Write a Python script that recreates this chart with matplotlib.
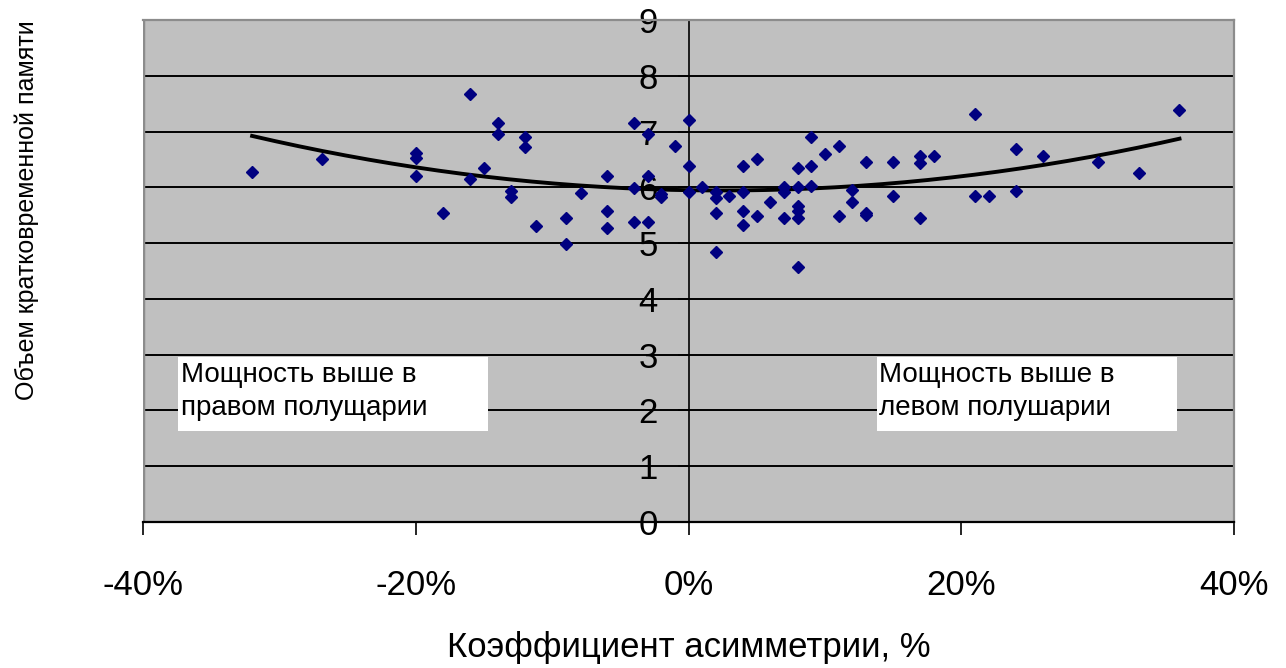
import matplotlib
matplotlib.use("Agg")
import matplotlib.pyplot as plt
import numpy as np
from matplotlib.patches import Rectangle

plt.rcParams['font.family'] = ['Liberation Sans', 'DejaVu Sans']
plt.rcParams['axes.unicode_minus'] = False

# коэффициент асимметрии, %
asym = [-32.0, -26.9, -20.0, -20.0, -20.0, -18.0, -16.0, -16.0, -15.0, -14.0,
        -14.0, -13.0, -13.0, -12.0, -12.0, -11.2, -9.0, -9.0, -7.9, -6.0,
        -6.0, -6.0, -4.0, -4.0, -4.0, -3.0, -3.0, -3.0, -2.0, -2.0,
        -1.0, 0.0, 0.0, 0.0, 1.0, 2.0, 2.0, 2.0, 2.0, 3.0,
        4.0, 4.0, 4.0, 4.0, 5.0, 5.0, 6.0, 7.0, 7.0, 7.0,
        8.0, 8.0, 8.0, 8.0, 8.0, 8.0, 9.0, 9.0, 9.0, 10.0,
        11.0, 11.0, 12.0, 12.0, 13.0, 13.0, 13.0, 15.0, 15.0, 17.0,
        17.0, 17.0, 18.0, 21.0, 21.0, 22.0, 24.0, 24.0, 26.0, 30.0,
        33.0, 36.0]
# объем кратковременной памяти
memory = [6.28, 6.51, 6.62, 6.53, 6.20, 5.54, 7.67, 6.15, 6.35, 7.16,
          6.95, 5.94, 5.82, 6.91, 6.73, 5.30, 5.45, 4.99, 5.90, 6.20,
          5.58, 5.27, 7.16, 5.99, 5.38, 6.95, 6.20, 5.38, 5.88, 5.83,
          6.74, 7.20, 6.39, 5.91, 6.00, 5.91, 5.81, 5.54, 4.84, 5.85,
          6.39, 5.91, 5.58, 5.33, 6.51, 5.49, 5.73, 6.00, 5.91, 5.45,
          6.35, 6.00, 5.66, 5.57, 5.45, 4.58, 6.90, 6.39, 6.03, 6.60,
          6.74, 5.49, 5.96, 5.73, 6.45, 5.54, 5.50, 6.45, 5.85, 6.56,
          6.44, 5.45, 6.56, 7.32, 5.85, 5.85, 6.68, 5.93, 6.56, 6.45,
          6.25, 7.38]

xticks = [-40, -20, 0, 20, 40]
xtick_labels = ['-40%', '-20%', '0%', '20%', '40%']
yticks = [0, 1, 2, 3, 4, 5, 6, 7, 8, 9]

note_left = "Мощность выше в\nправом полущарии"
note_right = "Мощность выше в\nлевом полушарии"

fig = plt.figure(figsize=(12.86, 6.68), dpi=100)
ax = fig.add_axes([0.1112, 0.2186, 0.8484, 0.7515])
ax.set_facecolor('#c0c0c0')

ax.set_xlim(-40, 40)
ax.set_ylim(0, 9)

# горизонтальные линии сетки
for v in yticks[1:-1]:
    ax.axhline(v, color='black', lw=1.4, zorder=1)

# рамка области построения
ax.spines['left'].set_position(('data', 0))
ax.spines['left'].set_color('black')
ax.spines['left'].set_linewidth(1.2)
ax.spines['bottom'].set_color('black')
ax.spines['bottom'].set_linewidth(1.6)
for s in ['top', 'right']:
    ax.spines[s].set_color('#8c8c8c')
    ax.spines[s].set_linewidth(1.6)
ax.axvline(-40, color='#8c8c8c', lw=2.5, zorder=1)

ax.set_xticks(xticks)
ax.set_xticklabels(xtick_labels)
ax.set_yticks(yticks)
ax.tick_params(axis='x', direction='out', length=9, width=1.2, pad=25, labelsize=25)
ax.tick_params(axis='y', direction='out', length=8, width=1.2, pad=14, labelsize=25)

# точки
ax.plot(asym, memory, linestyle='none', marker='D', markersize=6.3,
        color='#000080', zorder=4)

# полиномиальный тренд (2-я степень)
coef = np.polyfit(asym, memory, 2)
xs = np.linspace(min(asym), max(asym), 200)
ax.plot(xs, np.polyval(coef, xs), color='black', lw=2.8, zorder=3)

# подписи
for x0, x1, txt in [(-37.4, -14.7, note_left), (13.8, 35.8, note_right)]:
    ax.add_patch(Rectangle((x0, 1.63), x1 - x0, 2.96 - 1.63, facecolor='white',
                           edgecolor='none', zorder=5))
    ax.text(x0 + 0.15, 2.86, txt, fontsize=20, va='top', ha='left',
            linespacing=1.35, zorder=6)

fig.text(689 / 1286, 1 - 647 / 668, "Коэффициент асимметрии, %",
         fontsize=25, ha='center', va='center')
fig.text(27 / 1286, 1 - 210 / 668, "Объем кратковременной памяти",
         fontsize=18, ha='center', va='center', rotation=90)

fig.savefig("out.png", dpi=100)
